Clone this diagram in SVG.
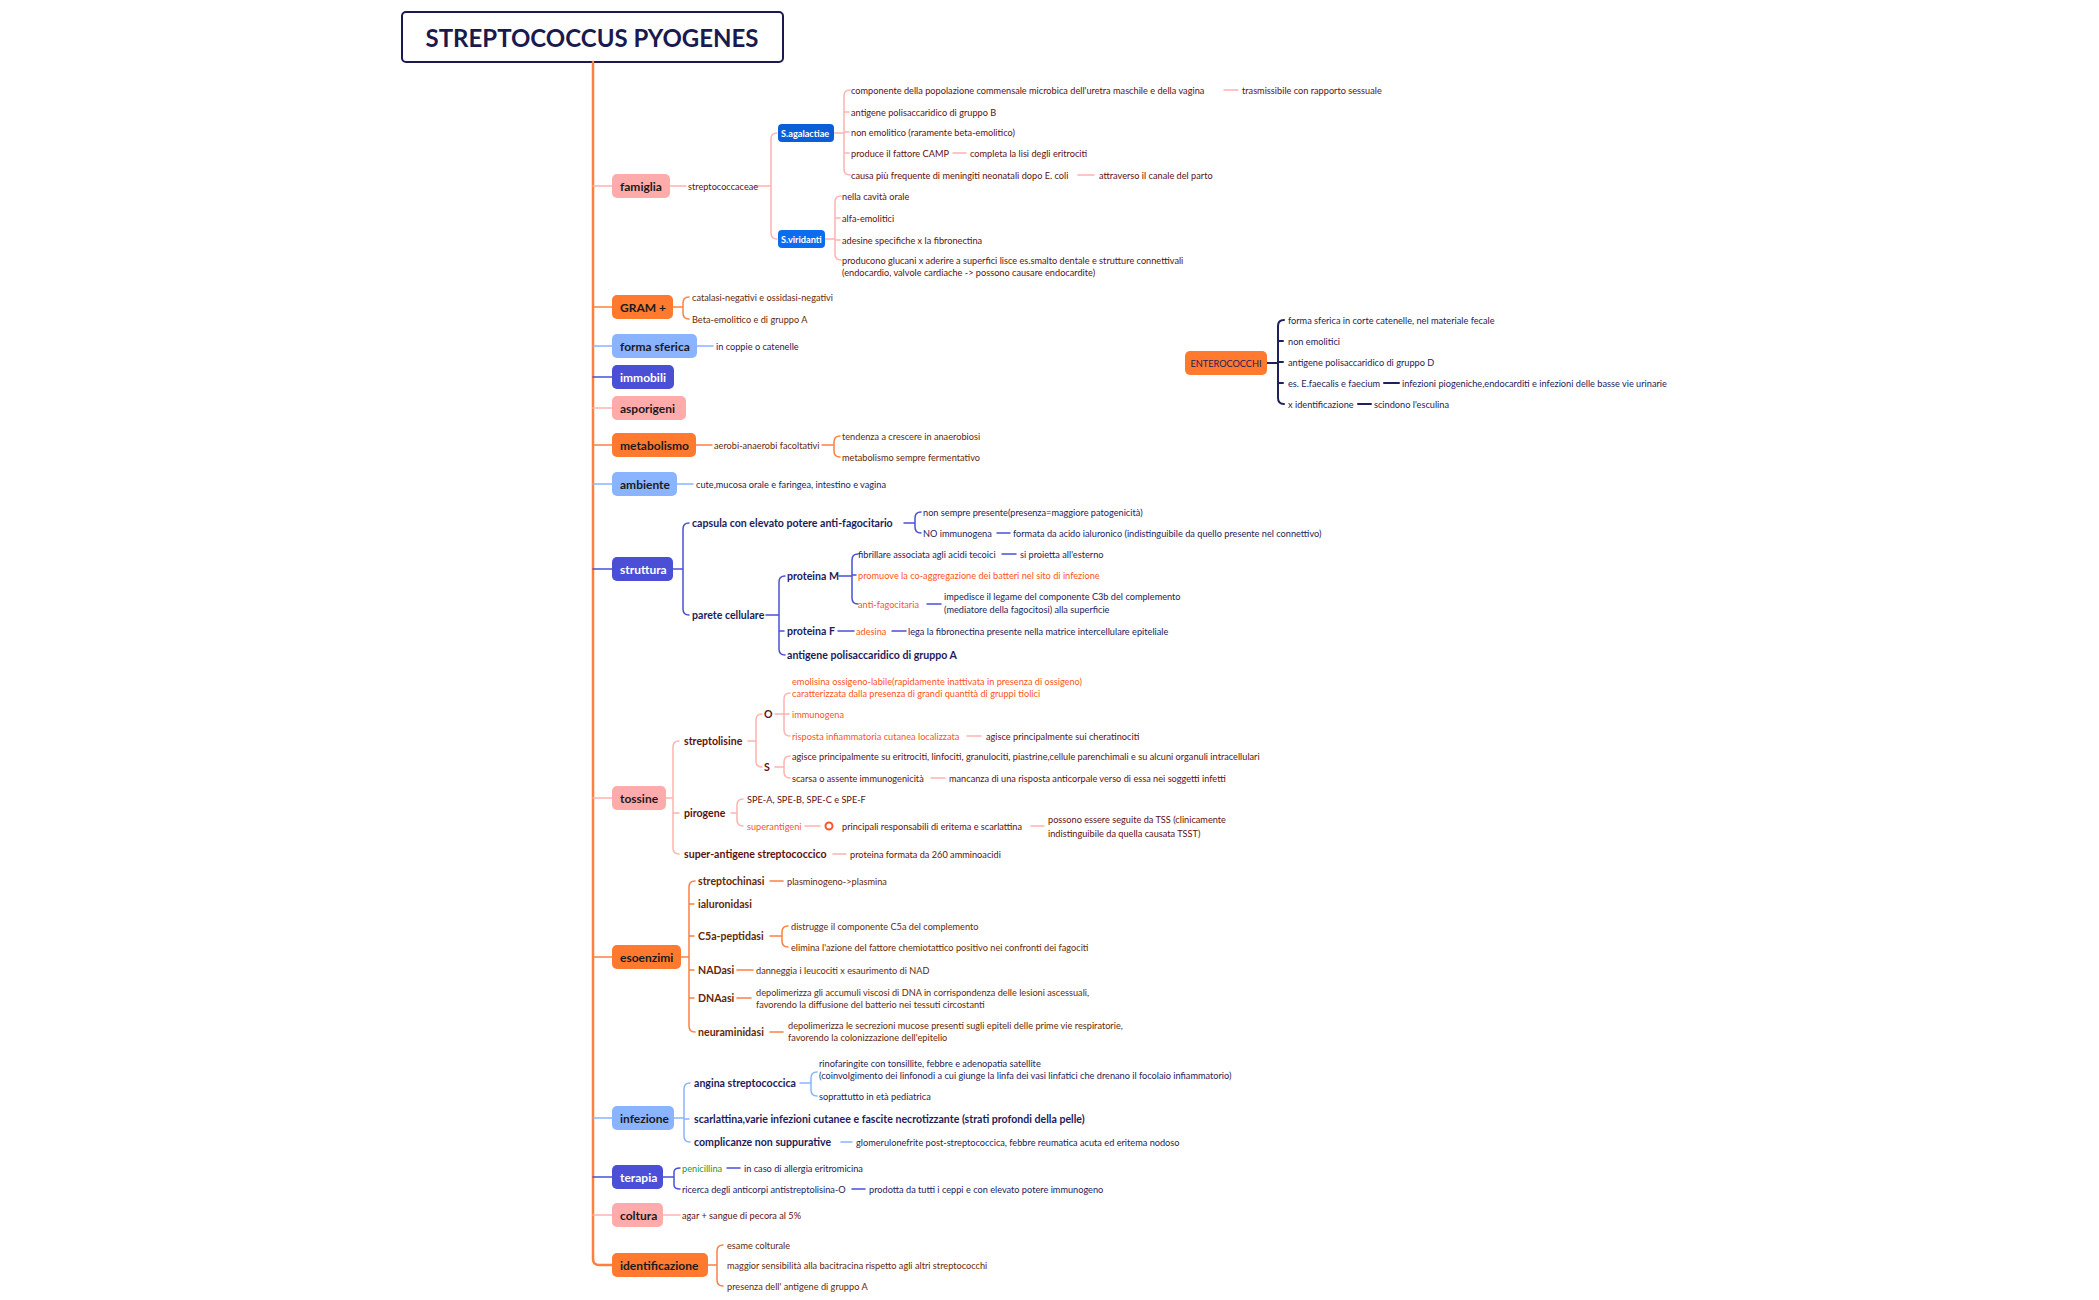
<svg xmlns="http://www.w3.org/2000/svg" width="2099" height="1300" viewBox="0 0 2099 1300">
<style>
text{font-family:Lato,"Noto Sans","Liberation Sans",sans-serif;dominant-baseline:central}
.t{font-size:9.2px}
.b{font-size:10.6px;font-weight:700}
.n{font-size:12px;font-weight:700}
.mr{fill:#5e1010}.br{fill:#652808}.nv{fill:#1c1c5a}.or{fill:#ff5522}.gr{fill:#1f9a1f}.w{fill:#fff}.k{fill:#1a1a1a}
path{fill:none;stroke-width:1.5;stroke-linecap:round}
.lp{stroke:#ffb3b3}.lo{stroke:#ff8040}.lb{stroke:#8ab4ff}.li{stroke:#4b4fd6}.ln{stroke:#20205f;stroke-width:2}
.np{fill:#ffabab}.no{fill:#ff7a2f}.nb{fill:#8ab4ff}.ni{fill:#4b4fd6}
</style>
<rect width="2099" height="1300" fill="#fff"/>
<g id="title"><rect x="402" y="12" width="381" height="50" rx="4" fill="#fff" stroke="#1a1a4e" stroke-width="2"/><text x="592" y="37" text-anchor="middle" font-size="24" font-weight="700" fill="#1a1a4e">STREPTOCOCCUS PYOGENES</text></g>
<g id="connectors">
<path d="M593 62V1259Q593 1265 599 1265H612" style="stroke:#ff7f3f;stroke-width:2.5"/>
<path class="lp" d="M593 186H612M593 408H612M593 798H612M593 1215H612"/>
<path class="lo" d="M593 307H612M593 445H612M593 957H612"/>
<path class="lb" d="M593 346H612M593 484H612M593 1118H612"/>
<path class="li" d="M593 377H612M593 569H612M593 1177H612"/>
<path class="lp" d="M670 186H686M755 186H771M777 133Q771 133 771 139V233Q771 239 777 239"/>
<path class="lp" d="M834 133H844M850 90Q844 90 844 96V169Q844 175 850 175M844 112H849M844 132H849M844 153H849M1224 90H1238M953 153H966M1078 175H1094"/>
<path class="lp" d="M825 239H835M841 196Q835 196 835 202V254Q835 260 841 260M835 218H840M835 240H840"/>
<path class="lo" d="M673 307H683M689 297Q683 297 683 303V313Q683 319 689 319"/>
<path class="lb" d="M697 346H713M677 484H693"/>
<path class="lo" d="M696 445H712M822 445H834M840 436Q834 436 834 442V451Q834 457 840 457"/>
<path class="li" d="M673 569H683M689 523Q683 523 683 529V609Q683 615 689 615"/>
<path class="li" d="M904 523H915M921 512Q915 512 915 518V527Q915 533 921 533M997 533H1010"/>
<path class="li" d="M766 615H779M785 576Q779 576 779 582V649Q779 655 785 655M779 631H784"/>
<path class="li" d="M839 576H852M858 554Q852 554 852 560V598Q852 604 858 604M852 575H856M1002 554H1016M927 604H941"/>
<path class="li" d="M838 631H854M892 631H906"/>
<path class="lp" d="M666 798H673M679 741Q673 741 673 747V848Q673 854 679 854M673 813H679"/>
<path class="lp" d="M748 741H756M762 714Q756 714 756 720V761Q756 767 762 767"/>
<path class="lp" d="M775 714H784M790 693Q784 693 784 699V730Q784 736 790 736M784 714H789M967 736H981"/>
<path class="lp" d="M775 767H784M790 756Q784 756 784 762V772Q784 778 790 778M931 778H945"/>
<path class="lp" d="M731 813H737M743 799Q737 799 737 805V820Q737 826 743 826M805 826H820M1031 826H1044M833 854H846"/>
<circle cx="829" cy="826" r="3.5" fill="none" stroke="#ff5522" stroke-width="2"/>
<path class="lo" d="M681 957H689M695 881Q689 881 689 887V1026Q689 1032 695 1032M689 904H694M689 936H694M689 970H694M689 998H694M770 881H783"/>
<path class="lo" d="M770 936H782M788 926Q782 926 782 932V941Q782 947 788 947M737 970H753M737 998H751M770 1032H783"/>
<path class="lb" d="M674 1118H684M690 1083Q684 1083 684 1089V1136Q684 1142 690 1142M684 1119H689"/>
<path class="lb" d="M800 1083H811M817 1072Q811 1072 811 1078V1090Q811 1096 817 1096M841 1142H852"/>
<path class="li" d="M663 1177H674M680 1168Q674 1168 674 1172V1185Q674 1189 680 1189M727 1168H740M852 1189H865"/>
<path class="lp" d="M663 1215H680"/>
<path class="lo" d="M708 1265H717M723 1245Q717 1245 717 1251V1280Q717 1286 723 1286"/>
<path class="ln" d="M1267 363H1278M1284 320Q1278 320 1278 326V398Q1278 404 1284 404M1278 341H1283M1278 362H1283M1278 383H1283M1384 383H1399M1358 404H1371"/>
</g>
<g id="famiglia"><rect class="np" x="612" y="174" width="58" height="24" rx="5"/><text class="n k" x="620" y="186">famiglia</text>
<text class="t mr" x="688" y="186">streptococcaceae</text>
<rect x="778" y="124" width="56" height="18" rx="4" fill="#0a5fd6"/><text class="t w" x="781" y="133" font-weight="700">S.agalactiae</text>
<rect x="778" y="230" width="47" height="18" rx="4" fill="#0b6cf0"/><text class="t w" x="781" y="239" font-weight="700">S.viridanti</text>
<text class="t mr" x="851" y="90">componente della popolazione commensale microbica dell'uretra maschile e della vagina</text>
<text class="t mr" x="1242" y="90">trasmissibile con rapporto sessuale</text>
<text class="t mr" x="851" y="112">antigene polisaccaridico di gruppo B</text>
<text class="t mr" x="851" y="132">non emolitico (raramente beta-emolitico)</text>
<text class="t mr" x="851" y="153">produce il fattore CAMP</text><text class="t mr" x="970" y="153">completa la lisi degli eritrociti</text>
<text class="t mr" x="851" y="175">causa più frequente di meningiti neonatali dopo E. coli</text><text class="t mr" x="1099" y="175">attraverso il canale del parto</text>
<text class="t mr" x="842" y="196">nella cavità orale</text>
<text class="t mr" x="842" y="218">alfa-emolitici</text>
<text class="t mr" x="842" y="240">adesine specifiche x la fibronectina</text>
<text class="t mr" x="842" y="260">producono glucani x aderire a superfici lisce es.smalto dentale e strutture connettivali</text>
<text class="t mr" x="842" y="272">(endocardio, valvole cardiache -&gt; possono causare endocardite)</text></g>
<g id="gram"><rect class="no" x="612" y="295" width="61" height="24" rx="5"/><text class="n k" x="620" y="307">GRAM +</text>
<text class="t br" x="692" y="297">catalasi-negativi e ossidasi-negativi</text><text class="t br" x="692" y="319">Beta-emolitico e di gruppo A</text></g>
<g id="forma"><rect class="nb" x="612" y="334" width="85" height="24" rx="5"/><text class="n k" x="620" y="346">forma sferica</text><text class="t nv" x="716" y="346">in coppie o catenelle</text></g>
<g id="immobili"><rect class="ni" x="612" y="365" width="62" height="24" rx="5"/><text class="n w" x="620" y="377">immobili</text></g>
<g id="asporigeni"><rect class="np" x="612" y="396" width="74" height="24" rx="5"/><text class="n k" x="620" y="408">asporigeni</text></g>
<g id="metabolismo"><rect class="no" x="612" y="433" width="84" height="24" rx="5"/><text class="n k" x="620" y="445">metabolismo</text>
<text class="t br" x="714" y="445">aerobi-anaerobi facoltativi</text><text class="t br" x="842" y="436">tendenza a crescere in anaerobiosi</text><text class="t br" x="842" y="457">metabolismo sempre fermentativo</text></g>
<g id="ambiente"><rect class="nb" x="612" y="472" width="65" height="24" rx="5"/><text class="n k" x="620" y="484">ambiente</text><text class="t nv" x="696" y="484">cute,mucosa orale e faringea, intestino e vagina</text></g>
<g id="struttura"><rect class="ni" x="612" y="557" width="61" height="24" rx="5"/><text class="n w" x="620" y="569">struttura</text>
<text class="b nv" x="692" y="523">capsula con elevato potere anti-fagocitario</text>
<text class="t nv" x="923" y="512">non sempre presente(presenza=maggiore patogenicità)</text>
<text class="t nv" x="923" y="533">NO immunogena</text><text class="t nv" x="1013" y="533">formata da acido ialuronico (indistinguibile da quello presente nel connettivo)</text>
<text class="b nv" x="692" y="615">parete cellulare</text>
<text class="b nv" x="787" y="576">proteina M</text>
<text class="t nv" x="858" y="554">fibrillare associata agli acidi tecoici</text><text class="t nv" x="1020" y="554">si proietta all'esterno</text>
<text class="t or" x="858" y="575">promuove la co-aggregazione dei batteri nel sito di infezione</text>
<text class="t or" x="858" y="604">anti-fagocitaria</text>
<text class="t nv" x="944" y="596">impedisce il legame del componente C3b del complemento</text><text class="t nv" x="944" y="609">(mediatore della fagocitosi) alla superficie</text>
<text class="b nv" x="787" y="631">proteina F</text><text class="t or" x="856" y="631">adesina</text><text class="t nv" x="908" y="631">lega la fibronectina presente nella matrice intercellulare epiteliale</text>
<text class="b nv" x="787" y="655">antigene polisaccaridico di gruppo A</text></g>
<g id="enterococchi"><rect class="no" x="1185" y="351" width="82" height="24" rx="5"/><text class="t nv" x="1226" y="363" text-anchor="middle" font-size="10">ENTEROCOCCHI</text>
<text class="t nv" x="1288" y="320">forma sferica in corte catenelle, nel materiale fecale</text>
<text class="t nv" x="1288" y="341">non emolitici</text>
<text class="t nv" x="1288" y="362">antigene polisaccaridico di gruppo D</text>
<text class="t nv" x="1288" y="383">es. E.faecalis e faecium</text><text class="t nv" x="1402" y="383">infezioni piogeniche,endocarditi e infezioni delle basse vie urinarie</text>
<text class="t nv" x="1288" y="404">x identificazione</text><text class="t nv" x="1374" y="404">scindono l'esculina</text></g>
<g id="tossine"><rect class="np" x="612" y="786" width="54" height="24" rx="5"/><text class="n k" x="620" y="798">tossine</text>
<text class="b mr" x="684" y="741">streptolisine</text>
<text class="b mr" x="764" y="714">O</text><text class="b mr" x="764" y="767">S</text>
<text class="t or" x="792" y="681">emolisina ossigeno-labile(rapidamente inattivata in presenza di ossigeno)</text>
<text class="t or" x="792" y="693">caratterizzata dalla presenza di grandi quantità di gruppi tiolici</text>
<text class="t or" x="792" y="714">immunogena</text>
<text class="t or" x="792" y="736">risposta infiammatoria cutanea localizzata</text><text class="t mr" x="986" y="736">agisce principalmente sui cheratinociti</text>
<text class="t mr" x="792" y="756">agisce principalmente su eritrociti, linfociti, granulociti, piastrine,cellule parenchimali e su alcuni organuli intracellulari</text>
<text class="t mr" x="792" y="778">scarsa o assente immunogenicità</text><text class="t mr" x="949" y="778">mancanza di una risposta anticorpale verso di essa nei soggetti infetti</text>
<text class="b mr" x="684" y="813">pirogene</text>
<text class="t mr" x="747" y="799">SPE-A, SPE-B, SPE-C e SPE-F</text>
<text class="t or" x="747" y="826">superantigeni</text><text class="t mr" x="842" y="826">principali responsabili di eritema e scarlattina</text>
<text class="t mr" x="1048" y="819">possono essere seguite da TSS (clinicamente</text><text class="t mr" x="1048" y="833">indistinguibile da quella causata TSST)</text>
<text class="b mr" x="684" y="854">super-antigene streptococcico</text><text class="t mr" x="850" y="854">proteina formata da 260 amminoacidi</text></g>
<g id="esoenzimi"><rect class="no" x="612" y="945" width="69" height="24" rx="5"/><text class="n k" x="620" y="957">esoenzimi</text>
<text class="b br" x="698" y="881">streptochinasi</text><text class="t br" x="787" y="881">plasminogeno-&gt;plasmina</text>
<text class="b br" x="698" y="904">ialuronidasi</text>
<text class="b br" x="698" y="936">C5a-peptidasi</text>
<text class="t br" x="791" y="926">distrugge il componente C5a del complemento</text><text class="t br" x="791" y="947">elimina l'azione del fattore chemiotattico positivo nei confronti dei fagociti</text>
<text class="b br" x="698" y="970">NADasi</text><text class="t br" x="756" y="970">danneggia i leucociti x esaurimento di NAD</text>
<text class="b br" x="698" y="998">DNAasi</text>
<text class="t br" x="756" y="992">depolimerizza gli accumuli viscosi di DNA in corrispondenza delle lesioni ascessuali,</text><text class="t br" x="756" y="1004">favorendo la diffusione del batterio nei tessuti circostanti</text>
<text class="b br" x="698" y="1032">neuraminidasi</text>
<text class="t br" x="788" y="1025">depolimerizza le secrezioni mucose presenti sugli epiteli delle prime vie respiratorie,</text><text class="t br" x="788" y="1037">favorendo la colonizzazione dell'epitelio</text></g>
<g id="infezione"><rect class="nb" x="612" y="1106" width="62" height="24" rx="5"/><text class="n k" x="620" y="1118">infezione</text>
<text class="b nv" x="694" y="1083">angina streptococcica</text>
<text class="t nv" x="819" y="1063">rinofaringite con tonsillite, febbre e adenopatia satellite</text>
<text class="t nv" x="819" y="1075">(coinvolgimento dei linfonodi a cui giunge la linfa dei vasi linfatici che drenano il focolaio infiammatorio)</text>
<text class="t nv" x="819" y="1096">soprattutto in età pediatrica</text>
<text class="b nv" x="694" y="1119">scarlattina,varie infezioni cutanee e fascite necrotizzante (strati profondi della pelle)</text>
<text class="b nv" x="694" y="1142">complicanze non suppurative</text><text class="t nv" x="856" y="1142">glomerulonefrite post-streptococcica, febbre reumatica acuta ed eritema nodoso</text></g>
<g id="terapia"><rect class="ni" x="612" y="1165" width="51" height="24" rx="5"/><text class="n w" x="620" y="1177">terapia</text>
<text class="t gr" x="682" y="1168">penicillina</text><text class="t nv" x="744" y="1168">in caso di allergia eritromicina</text>
<text class="t nv" x="682" y="1189">ricerca degli anticorpi antistreptolisina-O</text><text class="t nv" x="869" y="1189">prodotta da tutti i ceppi e con elevato potere immunogeno</text></g>
<g id="coltura"><rect class="np" x="612" y="1203" width="51" height="24" rx="5"/><text class="n k" x="620" y="1215">coltura</text><text class="t mr" x="682" y="1215">agar + sangue di pecora al 5%</text></g>
<g id="identificazione"><rect class="no" x="612" y="1253" width="96" height="24" rx="5"/><text class="n k" x="620" y="1265">identificazione</text>
<text class="t br" x="727" y="1245">esame colturale</text><text class="t br" x="727" y="1265">maggior sensibilità alla bacitracina rispetto agli altri streptococchi</text><text class="t br" x="727" y="1286">presenza dell' antigene di gruppo A</text></g>
</svg>
